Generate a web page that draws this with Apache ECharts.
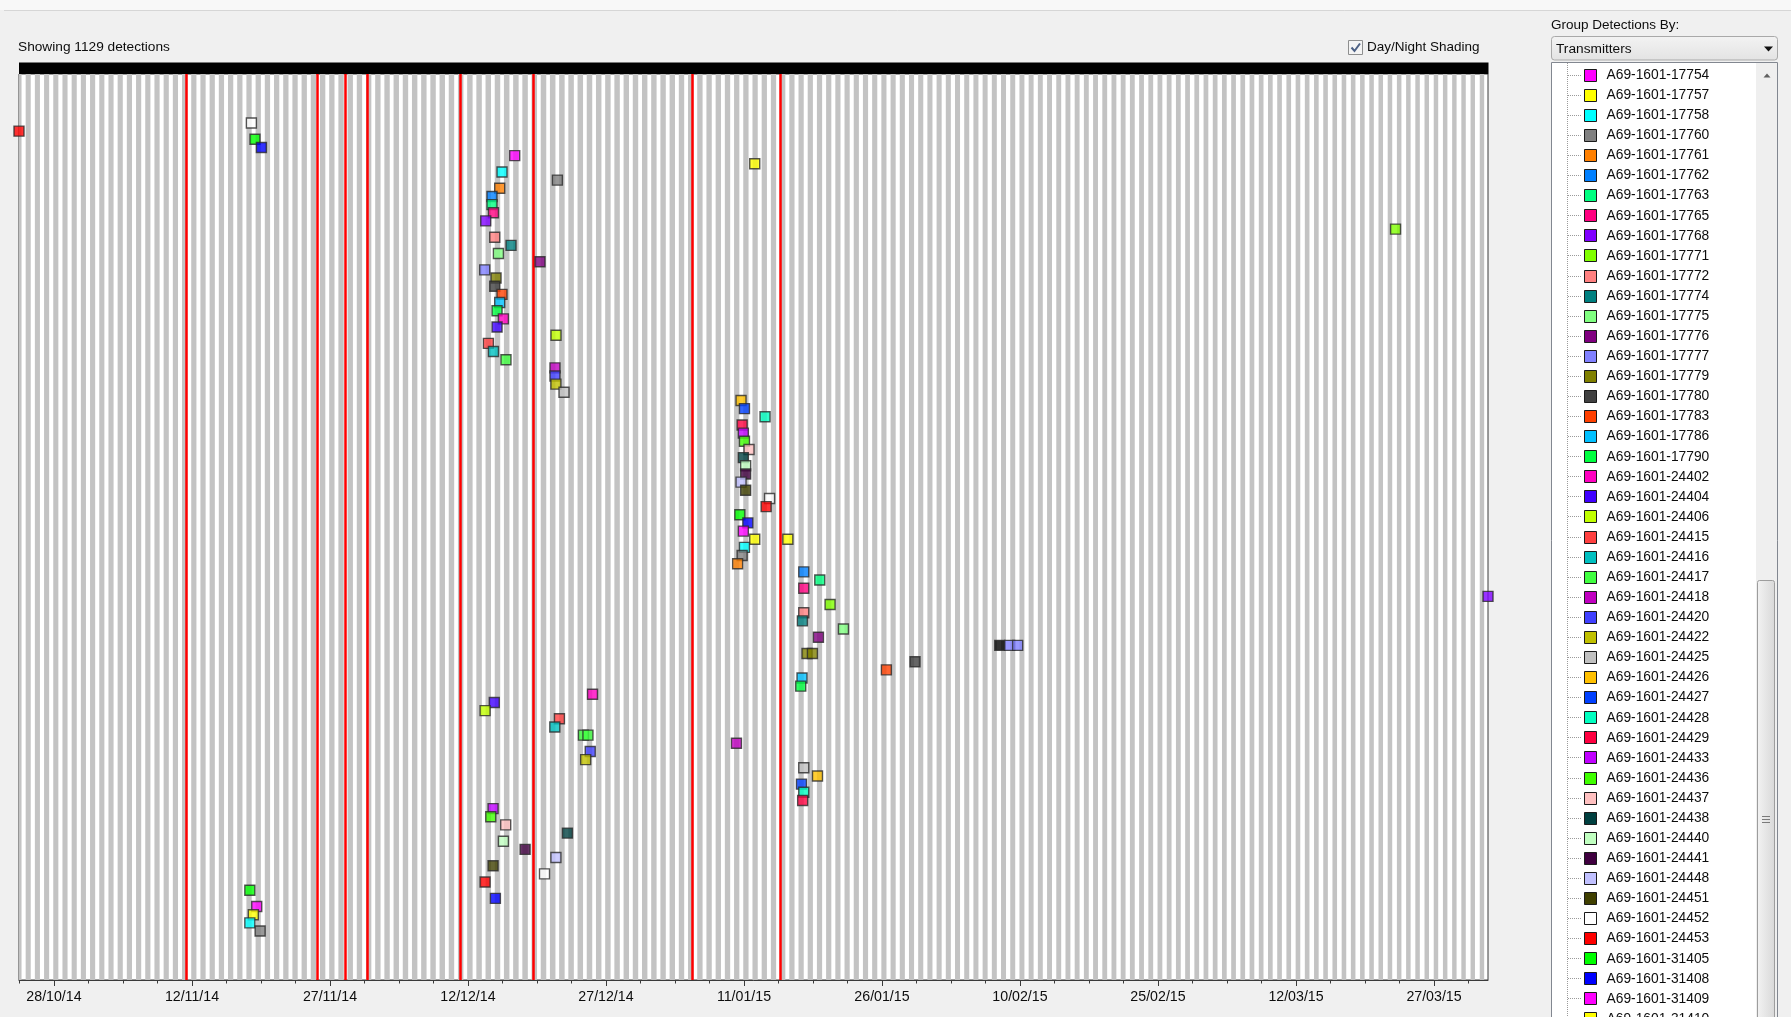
<!DOCTYPE html>
<html>
<head>
<meta charset="utf-8">
<script src="https://cdn.jsdelivr.net/npm/echarts@6/dist/echarts.min.js"></script>
<style>
html,body{margin:0;padding:0;background:#f0f0f0;}
#c{width:1791px;height:1017px;}
</style>
</head>
<body>
<div id="c"></div>
<script>
// ---------------- DATA ----------------
const transmitters = [
  'A69-1601-17754','A69-1601-17757','A69-1601-17758','A69-1601-17760','A69-1601-17761',
  'A69-1601-17762','A69-1601-17763','A69-1601-17765','A69-1601-17768','A69-1601-17771',
  'A69-1601-17772','A69-1601-17774','A69-1601-17775','A69-1601-17776','A69-1601-17777',
  'A69-1601-17779','A69-1601-17780','A69-1601-17783','A69-1601-17786','A69-1601-17790',
  'A69-1601-24402','A69-1601-24404','A69-1601-24406','A69-1601-24415','A69-1601-24416',
  'A69-1601-24417','A69-1601-24418','A69-1601-24420','A69-1601-24422','A69-1601-24425',
  'A69-1601-24426','A69-1601-24427','A69-1601-24428','A69-1601-24429','A69-1601-24433',
  'A69-1601-24436','A69-1601-24437','A69-1601-24438','A69-1601-24440','A69-1601-24441',
  'A69-1601-24448','A69-1601-24451','A69-1601-24452','A69-1601-24453','A69-1601-31405',
  'A69-1601-31408','A69-1601-31409','A69-1601-31410'
];
const palette = [
  '#ff00ff','#ffff00','#00ffff','#808080','#ff8000','#0080ff','#00ff80','#ff0080','#8000ff','#80ff00',
  '#ff8080','#008080','#80ff80','#800080','#8080ff','#808000','#404040','#ff4000','#00c0ff','#00ff40',
  '#ff00c0','#4000ff','#c0ff00','#ff4040','#00c0c0','#40ff40','#c000c0','#4040ff','#c0c000','#c0c0c0',
  '#ffc000','#0040ff','#00ffc0','#ff0040','#c000ff','#40ff00','#ffc0c0','#004040','#c0ffc0','#400040',
  '#c0c0ff','#404000','#ffffff','#ff0000','#00ff00','#0000ff'
];
// detections: time (UTC) and transmitter row (0 = A69-1601-17754)
const detTimes = [
  '2014-11-18 11:02','2014-10-24 04:48','2014-11-18 20:24','2014-11-19 13:12',
  '2014-12-17 01:55','2015-01-12 04:05','2014-12-15 16:48','2014-12-21 17:17','2014-12-15 10:48',
  '2014-12-14 14:38','2014-12-14 14:38','2014-12-14 18:29','2014-12-13 22:19','2015-03-22 19:41',
  '2014-12-14 21:50','2014-12-16 16:19','2014-12-15 07:26','2014-12-19 19:55','2014-12-13 19:41',
  '2014-12-15 01:12','2014-12-14 21:50','2014-12-15 16:48','2014-12-15 10:48','2014-12-15 03:50',
  '2014-12-15 20:24','2014-12-15 03:50','2014-12-21 13:41','2014-12-14 05:17','2014-12-14 18:29',
  '2014-12-16 03:07','2014-12-21 11:02','2014-12-21 11:02','2014-12-21 13:26','2014-12-22 10:34',
  '2015-01-10 16:19','2015-01-11 01:12','2015-01-13 06:58','2015-01-10 19:12','2015-01-10 22:19',
  '2015-01-11 01:12','2015-01-11 13:12','2015-01-10 22:19','2015-01-11 04:19','2015-01-11 04:19',
  '2015-01-10 16:19','2015-01-11 04:19','2015-01-13 18:43','2015-01-13 09:50','2015-01-10 13:12',
  '2015-01-11 10:05','2015-01-10 22:19','2015-01-12 04:05','2015-01-15 18:29','2015-01-11 01:12',
  '2015-01-10 19:12','2015-01-10 07:26','2015-01-17 12:00','2015-01-19 05:46','2015-01-17 12:00',
  '2015-04-01 20:53','2015-01-20 08:38','2015-01-17 12:00','2015-01-17 08:24','2015-01-21 19:26',
  '2015-01-19 02:10','2015-02-08 21:07','2015-02-09 18:00','2015-01-17 20:24','2015-01-18 10:34',
  '2015-01-29 14:10','2015-01-26 11:31','2015-01-17 07:26','2015-01-17 04:05',
  '2014-12-25 12:58','2014-12-14 20:38','2014-12-13 20:38','2014-12-21 22:34','2014-12-21 10:34',
  '2014-12-24 13:12','2014-12-25 00:58','2015-01-10 04:19','2014-12-25 06:58','2014-12-24 18:58',
  '2015-01-17 12:00','2015-01-18 23:46','2015-01-17 06:00','2015-01-17 12:00','2015-01-17 09:07',
  '2014-12-14 17:31','2014-12-14 11:31','2014-12-16 02:24','2014-12-22 19:26','2014-12-15 20:24',
  '2014-12-18 05:02','2014-12-21 13:26','2014-12-14 17:31','2014-12-20 07:41','2014-12-13 20:38',
  '2014-11-18 06:58','2014-12-14 23:31','2014-11-19 00:58','2014-11-18 16:05','2014-11-18 06:58',
  '2014-11-19 09:50'
];
const detRows = [
  -4,-3,-2,-1,
  0,1,2,3,4,
  5,6,7,8,9,
  10,11,12,13,14,
  15,16,17,18,19,
  20,21,22,23,24,
  25,26,27,28,29,
  30,31,32,33,34,
  35,36,37,38,39,
  40,41,42,43,44,
  45,46,47,47,48,
  49,50,51,52,53,
  54,55,56,57,58,
  59,60,60,61,61,
  62,63,64,65,
  66,67,68,69,70,
  71,71,72,73,74,
  75,76,77,78,79,
  80,81,82,83,84,
  85,86,87,88,89,
  90,91,92,93,94,
  95
];
// one dark mark drawn in the row of 60
const darkTimes = ['2015-02-07 19:12'];
const darkRows = [60];
// red event lines
const redLineTimes = [
  '2014-11-11 09:36','2014-11-25 14:10','2014-11-28 17:02','2014-12-01 00:43',
  '2014-12-11 03:07','2014-12-19 02:24','2015-01-05 09:07','2015-01-14 23:46'
];
// tick labels
const tickDates = [
  '2014-10-28','2014-11-12','2014-11-27','2014-12-12','2014-12-27','2015-01-11',
  '2015-01-26','2015-02-10','2015-02-25','2015-03-12','2015-03-27'
];
// night shading anchors (UTC hours relative to each day's midnight)
const shadeDates = ['2014-10-24','2014-12-21','2015-04-02'];
const nightFrom = [-1.8, -2.2, -0.6];
const nightTo = [11.4, 12.2, 10.9];
const detectionCount = 1129;

// ---------------- HELPERS ----------------
const HOUR = 3600000, DAY = 86400000;
function T(s){
  const parts = s.split(' ');
  const d = parts[0].split('-').map(Number);
  const t = (parts[1] || '00:00').split(':').map(Number);
  return Date.UTC(d[0], d[1]-1, d[2], t[0], t[1]);
}
function pad(n){return (n<10?'0':'')+n;}
function fmt(v){const d=new Date(v);return pad(d.getUTCDate())+'/'+pad(d.getUTCMonth()+1)+'/'+pad(d.getUTCFullYear()%100);}
function colorOf(row){return palette[((row%palette.length)+palette.length)%palette.length];}

const detX = detTimes.map(T);
const xMin = Math.min(...detX), xMax = Math.max(...detX);
const majorTicks = tickDates.map(T);
const minorTicks = [];
const step = (majorTicks[1]-majorTicks[0])/4;
for (let v = majorTicks[0]-step; v <= xMax; v += step) if (v >= xMin) minorTicks.push(v);

const anchorX = shadeDates.map(T);
function lerp(arr, x){
  if (x <= anchorX[0]) return arr[0];
  for (let i=1;i<anchorX.length;i++){
    if (x <= anchorX[i]){const f=(x-anchorX[i-1])/(anchorX[i]-anchorX[i-1]);return arr[i-1]+f*(arr[i]-arr[i-1]);}
  }
  return arr[arr.length-1];
}
const nights = [];
for (let d = Math.floor(xMin/DAY)-1; d <= Math.ceil(xMax/DAY)+1; d++){
  const m = d*DAY;
  nights.push([m + lerp(nightFrom,m)*HOUR, m + lerp(nightTo,m)*HOUR]);
}

const yMinV = -10, yMaxV = 101;
const grid = {left:19, top:74, width:1469, height:906};

// ---------------- PANEL GRAPHICS ----------------
const FONT = '"Liberation Sans", Arial, sans-serif';
const TXT = '#0d0d0d';
const g = [];
g.push({type:'rect', shape:{x:0,y:0,width:1791,height:10}, style:{fill:'#f8f8f8'}, silent:true});
g.push({type:'line', shape:{x1:4,y1:10.5,x2:1791,y2:10.5}, style:{stroke:'#d6d6d6',lineWidth:1}, silent:true});
g.push({type:'text', x:18, y:47.5, style:{text:'Showing '+detectionCount+' detections', font:'13.7px '+FONT, fill:TXT, verticalAlign:'middle'}, silent:true});
// checkbox
g.push({type:'rect', shape:{x:1348.5,y:40.5,width:14,height:14}, style:{fill:'#f4f4f4',stroke:'#8e8f8f',lineWidth:1}, silent:true});
g.push({type:'polyline', shape:{points:[[1351.5,47.5],[1354.5,51],[1360,43.5]]}, style:{stroke:'#4d6185',lineWidth:2,fill:null}, silent:true});
g.push({type:'text', x:1367, y:47.5, style:{text:'Day/Night Shading', font:'13.5px '+FONT, fill:TXT, verticalAlign:'middle'}, silent:true});
// black header bar
g.push({type:'rect', shape:{x:19,y:62.5,width:1469.5,height:11.5}, style:{fill:'#000'}, silent:true, z:100});
// right panel
g.push({type:'text', x:1551, y:25.5, style:{text:'Group Detections By:', font:'13.5px '+FONT, fill:TXT, verticalAlign:'middle'}, silent:true});
g.push({type:'rect', shape:{x:1551.5,y:36.5,width:226,height:23.5,r:3},
  style:{fill:new echarts.graphic.LinearGradient(0,0,0,1,[{offset:0,color:'#f3f3f3'},{offset:1,color:'#e3e3e3'}]),stroke:'#a9a9a9',lineWidth:1}, silent:true});
g.push({type:'text', x:1556, y:49, style:{text:'Transmitters', font:'13.7px '+FONT, fill:TXT, verticalAlign:'middle'}, silent:true});
g.push({type:'polygon', shape:{points:[[1764,46.5],[1773,46.5],[1768.5,51.5]]}, style:{fill:'#111'}, silent:true});
g.push({type:'rect', shape:{x:1551.5,y:62.5,width:226,height:1000}, style:{fill:'#fff',stroke:'#828790',lineWidth:1}, silent:true});
// scrollbar
g.push({type:'rect', shape:{x:1756,y:63,width:21,height:960}, style:{fill:'#efefef'}, silent:true});
g.push({type:'polygon', shape:{points:[[1763.5,77.5],[1770.5,77.5],[1767,73.5]]}, style:{fill:'#606060'}, silent:true});
g.push({type:'rect', shape:{x:1757.5,y:580.5,width:17,height:460,r:2},
  style:{fill:new echarts.graphic.LinearGradient(0,0,1,0,[{offset:0,color:'#f3f3f3'},{offset:1,color:'#d8d8d8'}]),stroke:'#9d9d9d',lineWidth:1}, silent:true});
[816.5,819.5,822.5].forEach(y=>g.push({type:'line', shape:{x1:1762,y1:y,x2:1770,y2:y}, style:{stroke:'#7a7a7a',lineWidth:1}, silent:true}));
// tree dotted line
g.push({type:'line', shape:{x1:1567.5,y1:63,x2:1567.5,y2:1017}, style:{stroke:'#9a9a9a',lineWidth:1,lineDash:[1,1]}, silent:true});
transmitters.forEach((name,i)=>{
  const cy = 74.7 + 20.08*i;
  const yy = Math.round(cy)+0.5;
  g.push({type:'line', shape:{x1:1568,y1:yy,x2:1582,y2:yy}, style:{stroke:'#9a9a9a',lineWidth:1,lineDash:[1,1]}, silent:true});
  g.push({type:'rect', shape:{x:1584.5,y:Math.round(cy)-5.5,width:12,height:12}, style:{fill:colorOf(i),stroke:'#1a1a1a',lineWidth:1}, silent:true});
  g.push({type:'text', x:1606.5, y:cy+0.5, style:{text:name, font:'13.8px '+FONT, fill:TXT, verticalAlign:'middle'}, silent:true});
});

// ---------------- CHART ----------------
const chart = echarts.init(document.getElementById('c'));
chart.setOption({
  animation:false,
  backgroundColor:'#f0f0f0',
  grid:Object.assign({show:true, backgroundColor:'#ffffff', borderColor:'#3a3a3a', borderWidth:1}, grid),
  xAxis:[{
    type:'value', min:xMin, max:xMax, position:'bottom',
    axisLine:{show:true, onZero:false, lineStyle:{color:'#3a3a3a', width:1}},
    axisTick:{show:true, customValues:majorTicks, length:6, lineStyle:{color:'#3a3a3a'}},
    axisLabel:{show:true, customValues:majorTicks, formatter:fmt, fontSize:14.2, fontFamily:FONT, color:TXT, margin:10},
    splitLine:{show:false}
  },{
    type:'value', min:xMin, max:xMax, position:'bottom',
    axisLine:{show:false, onZero:false},
    axisTick:{show:true, customValues:minorTicks, length:3.5, lineStyle:{color:'#3a3a3a'}},
    axisLabel:{show:false},
    splitLine:{show:false}
  }],
  yAxis:{type:'value', inverse:true, min:yMinV, max:yMaxV, show:false, splitLine:{show:false}, axisLine:{onZero:false}},
  series:[
    {
      type:'custom', silent:true, z:1, clip:true,
      data:nights,
      encode:{x:[0,1]},
      renderItem:function(params, api){
        const x1 = api.coord([api.value(0), yMinV])[0];
        const x2 = api.coord([api.value(1), yMinV])[0];
        const cs = params.coordSys;
        const r = echarts.graphic.clipRectByRect({x:x1, y:cs.y, width:x2-x1, height:cs.height},{x:cs.x,y:cs.y,width:cs.width,height:cs.height});
        if (!r) return null;
        return {type:'rect', shape:r, style:{fill:'#c3c3c3'}};
      }
    },
    {
      type:'scatter', z:3, silent:true,
      data:darkTimes.map((t,i)=>[T(t), darkRows[i]]),
      symbol:'rect', symbolSize:10,
      itemStyle:{color:'#000000', borderColor:'#2a2a2a', borderWidth:1.4}
    },
    {
      type:'scatter', z:3, silent:true,
      data:detX.map((x,i)=>[x, detRows[i]]),
      symbol:'rect', symbolSize:10,
      itemStyle:{color:p=>colorOf(p.data[1]), borderColor:'#2a2a2a', borderWidth:1.4},
      markLine:{
        silent:true, symbol:['none','none'], label:{show:false}, z:2,
        lineStyle:{color:'#ff0000', width:2.5, type:'solid'},
        data:redLineTimes.map(t=>({xAxis:T(t)}))
      }
    }
  ],
  graphic:g
});
</script>
</body>
</html>
